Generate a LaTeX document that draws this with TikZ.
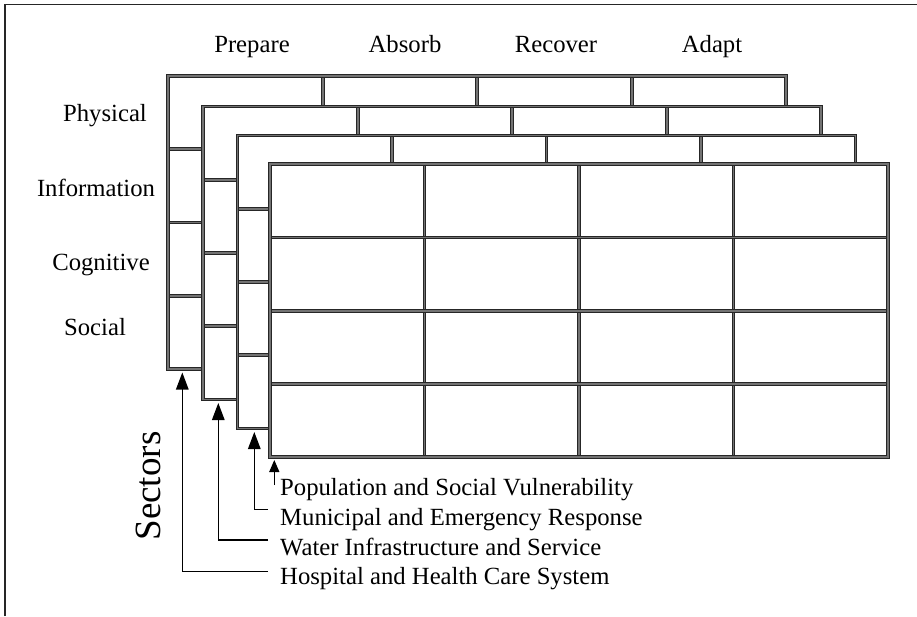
\documentclass[tikz,border=0pt]{standalone}
\usepackage{fontspec}
\setmainfont{Liberation Serif}
\usetikzlibrary{arrows.meta}
\tikzset{
  gridline/.style={draw=black!85, double=black!55, line width=1pt, double distance=1.8pt},
  lbl/.style={font=\fontsize{24.7}{28}\selectfont, inner sep=0pt},
  seclbl/.style={font=\fontsize{37}{40}\selectfont, inner sep=0pt, rotate=90},
  arr/.style={line width=1.3pt, -{Triangle[length=17pt,width=12.5pt]}},
  arrsmall/.style={line width=1.3pt, -{Triangle[length=12pt,width=10pt]}},
  framel/.style={line width=1.8pt, draw=black!85}
}
\begin{document}
\begin{tikzpicture}[x=1pt,y=-1pt]
\useasboundingbox (0,0) rectangle (917,616);
\draw[framel] (5,616) -- (5,4.5) -- (917,4.5);

% layered grids, back to front
\foreach \xl/\yt [count=\n] in {168.3/76, 203.3/106.5, 237.5/135.5, 270/164.3}{
  \begin{scope}[shift={(\xl,\yt)}]
    \fill[white] (0,0) rectangle (618,293);
    \foreach \i in {1,2,3} \draw[gridline] (154.5*\i,0) -- (154.5*\i,293);
    \foreach \j in {1,2,3} \draw[gridline] (0,73.25*\j) -- (618,73.25*\j);
    \draw[gridline] (0,0) rectangle (618,293);
  \end{scope}
}

% column labels
\node[lbl, anchor=base] (prep) at (252,52) {Prepare};
\node[lbl, anchor=base] (abs) at (405,52) {Absorb};
\node[lbl, anchor=base] (rec) at (556,52) {Recover};
\node[lbl, anchor=base] (adp) at (712,52) {Adapt};

% row labels
\node[lbl, anchor=base] (phys) at (105,121) {Physical};
\node[lbl, anchor=base] (info) at (96,196) {Information};
\node[lbl, anchor=base] (cogn) at (101,270) {Cognitive};
\node[lbl, anchor=base] (soc) at (95,335) {Social};

% sectors
\node[seclbl] (sect) at (148,486) {Sectors};
\node[lbl, anchor=base west] (pop) at (280,495) {Population and Social Vulnerability};
\node[lbl, anchor=base west] (mun) at (280,525) {Municipal and Emergency Response};
\node[lbl, anchor=base west] (wat) at (280,555) {Water Infrastructure and Service};
\node[lbl, anchor=base west] (hos) at (280,584) {Hospital and Health Care System};

% arrow ends
\coordinate (hosS) at (268,571.7);
\coordinate (watS) at (268,540);
\coordinate (munS) at (268,509.3);
\coordinate (popS) at (274.3,485);
\coordinate (L1t) at (182.3,372.5);
\coordinate (L2t) at (218.3,403);
\coordinate (L3t) at (254.3,432);
\coordinate (L4t) at (274.3,460);

\draw[arr] (hosS) -| (L1t);
\draw[arr] (watS) -| (L2t);
\draw[arr] (munS) -| (L3t);
\draw[arrsmall] (popS) -- (L4t);
\end{tikzpicture}
\end{document}
